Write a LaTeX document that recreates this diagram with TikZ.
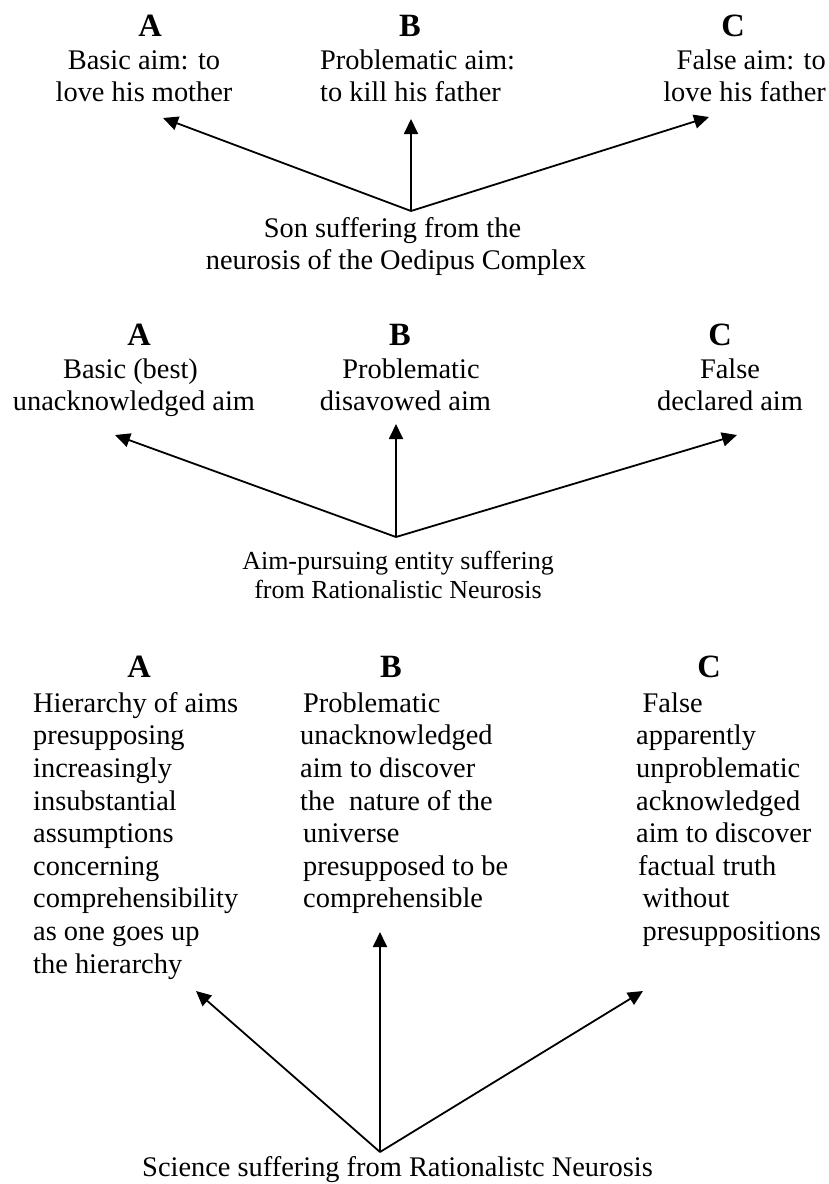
\documentclass[tikz,border=0pt]{standalone}
\usepackage{fontspec}
\setmainfont{Liberation Serif}
\usetikzlibrary{arrows.meta}
\begin{document}
\begin{tikzpicture}[x=1pt,y=-1pt,
  txt/.style={font=\fontsize{28.4}{32}\selectfont, inner sep=0pt, anchor=north, align=center},
  txts/.style={font=\fontsize{26}{29.5}\selectfont, inner sep=0pt, anchor=north, align=center},
  txtl/.style={font=\fontsize{28.4}{32.6}\selectfont, inner sep=0pt, anchor=north west, align=left},
  head/.style={font=\fontsize{32.5}{36}\selectfont\bfseries, inner sep=0pt, anchor=base},
  arr/.style={-{Triangle[length=15pt,width=14pt]}, line width=1.8pt}]
\useasboundingbox (0,0) rectangle (829,1184);

% ---------- Section 1 ----------
\node[head] (hA1) at (150,36) {A};
\node[head] (hB1) at (410,36) {B};
\node[head] (hC1) at (733,36) {C};
\node[txt] (tA1) at (144,47.25) {\strut Basic aim: to\\love his mother};
\node[txt, anchor=north west, align=left] (tB1) at (320,47.25) {\strut Problematic aim:\\to kill his father};
\node[txt, anchor=north east, align=right] (tC1) at (826,47.25) {\strut False aim: to\\love his father};
\node[txt] (s1) at (396,215.25) {\strut Son suffering from the\hspace*{7pt}\\neurosis of the Oedipus Complex};
\coordinate (o1) at (411,211);
\coordinate (a1) at (163,118);
\coordinate (b1) at (411,119);
\coordinate (c1) at (709,117);
\draw[arr] (o1) -- (a1);
\draw[arr] (o1) -- (b1);
\draw[arr] (o1) -- (c1);

% ---------- Section 2 ----------
\node[head] (hA2) at (139,345) {A};
\node[head] (hB2) at (400,345) {B};
\node[head] (hC2) at (720,345) {C};
\node[txt] (tA2) at (134,356.25) {\strut Basic (best)\hspace*{7pt}\\unacknowledged aim};
\node[txt] (tB2) at (405.5,356.25) {\strut\hspace*{11pt}Problematic\\disavowed aim};
\node[txt] (tC2) at (730,356.25) {\strut False\\declared aim};
\node[txts] (s2) at (398,548.35) {\strut Aim-pursuing entity suffering\\from Rationalistic Neurosis};
\coordinate (o2) at (396,537);
\coordinate (a2) at (115,435);
\coordinate (b2) at (396,424);
\coordinate (c2) at (737,435);
\draw[arr] (o2) -- (a2);
\draw[arr] (o2) -- (b2);
\draw[arr] (o2) -- (c2);

% ---------- Section 3 ----------
\node[head] (hA3) at (139,677) {A};
\node[head] (hB3) at (391,677) {B};
\node[head] (hC3) at (709,677) {C};
\node[txtl] (tA3) at (33,689.25) {\strut Hierarchy of aims\\presupposing\\increasingly\\insubstantial\\assumptions\\concerning\\comprehensibility\\as one goes up\\the hierarchy};
\node[txtl] (tB3) at (300,689.25) {\strut\hspace*{3pt}Problematic\\unacknowledged\\aim to discover\\the~~nature of the\\\hspace*{3pt}universe\\\hspace*{3pt}presupposed to be\\\hspace*{3pt}comprehensible};
\node[txtl] (tC3) at (636,689.25) {\strut\hspace*{6.5pt}False\\apparently\\unproblematic\\acknowledged\\aim to discover\\\hspace*{2pt}factual truth\\\hspace*{6.5pt}without\\\hspace*{6.5pt}presuppositions};
\node[txt] (s3) at (397.5,1154.25) {\strut Science suffering from Rationalistc Neurosis};
\coordinate (o3) at (380,1152);
\coordinate (a3) at (196,991);
\coordinate (b3) at (380,932);
\coordinate (c3) at (643,991);
\draw[arr] (o3) -- (a3);
\draw[arr] (o3) -- (b3);
\draw[arr] (o3) -- (c3);
\end{tikzpicture}
\end{document}
